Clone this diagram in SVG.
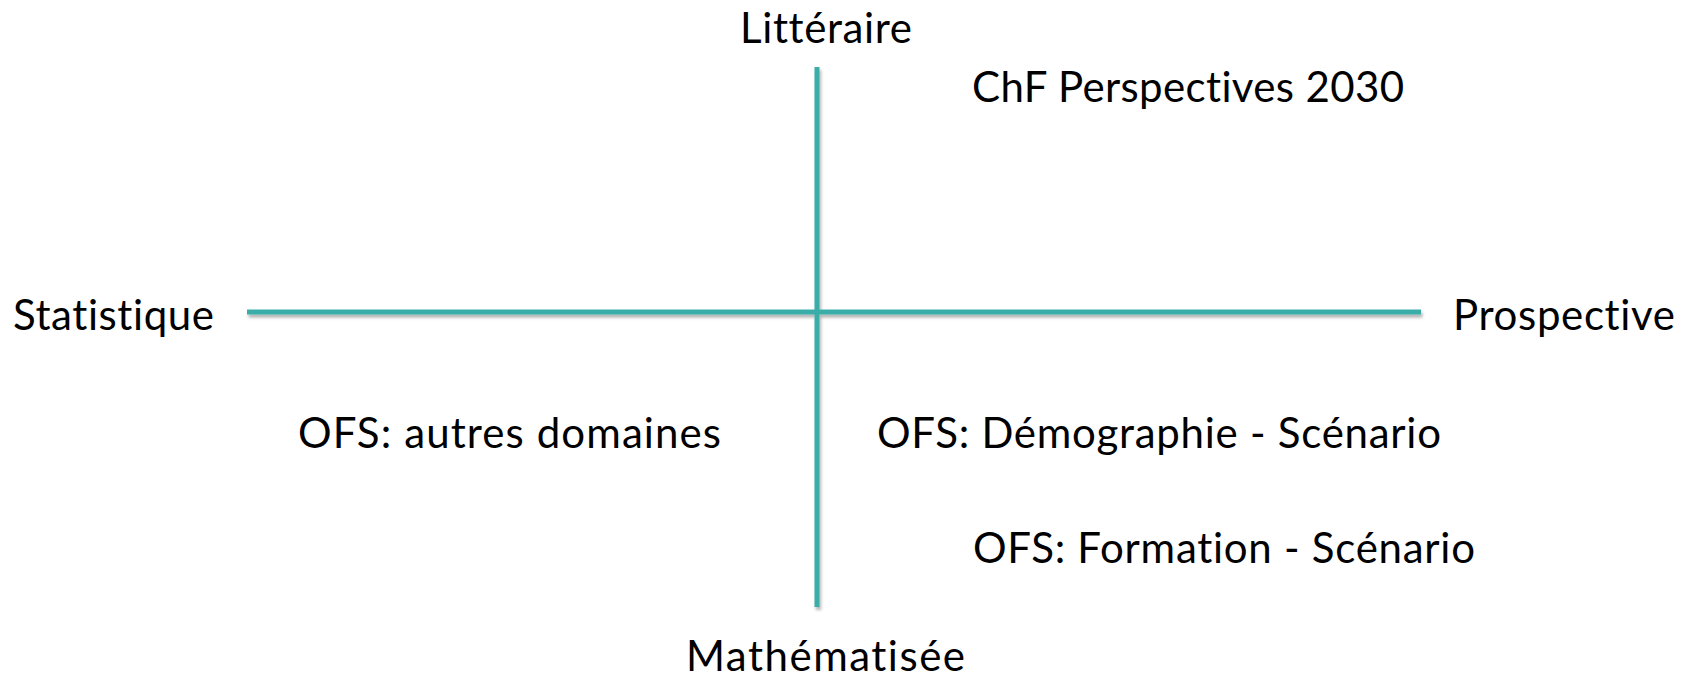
<svg xmlns="http://www.w3.org/2000/svg" width="1681" height="680" viewBox="0 0 1681 680">
<style>
text{font-family:Lato,"Open Sans","Liberation Sans",sans-serif;font-size:42px;fill:#000;font-variant-ligatures:none;font-feature-settings:"liga" 0,"clig" 0,"dlig" 0}
.axis{stroke:#3AADA8;stroke-width:5;fill:none}
</style>
<defs>
<filter id="sh" x="-10%" y="-10%" width="120%" height="120%">
<feDropShadow dx="1.5" dy="3" stdDeviation="1.5" flood-color="#000" flood-opacity="0.3"/>
</filter>
</defs>
<rect width="1681" height="680" fill="#fff"/>
<g id="connectors" filter="url(#sh)">
<line class="axis" x1="247" y1="312" x2="1421" y2="312"/>
<line class="axis" x1="817" y1="67" x2="817" y2="607"/>
</g>
<g id="litteraire"><text x="740" y="43" textLength="172">Littéraire</text></g>
<g id="mathematisee"><text x="686" y="671" textLength="279">Mathématisée</text></g>
<g id="statistique"><text x="13" y="330" textLength="201">Statistique</text></g>
<g id="prospective"><text x="1453" y="330" textLength="222">Prospective</text></g>
<g id="chf"><text x="972" y="102" textLength="432">ChF Perspectives 2030</text></g>
<g id="ofs-autres"><text x="298" y="448" textLength="423">OFS: autres domaines</text></g>
<g id="ofs-demo"><text x="877" y="448" textLength="564">OFS: Démographie - Scénario</text></g>
<g id="ofs-formation"><text x="973" y="563" textLength="502">OFS: Formation - Scénario</text></g>
</svg>
